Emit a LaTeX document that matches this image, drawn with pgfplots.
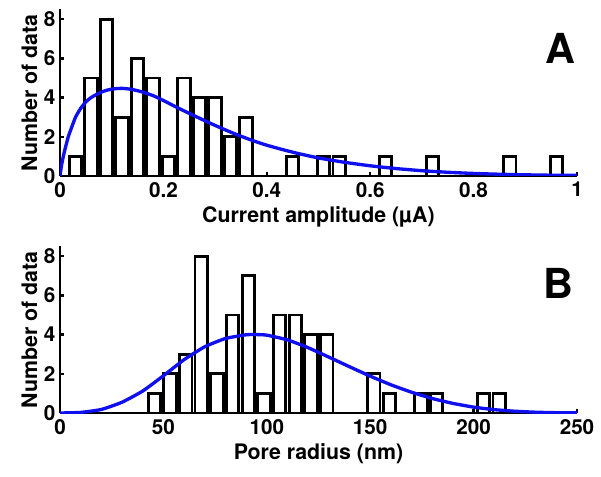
\documentclass[border=0pt]{standalone}
\usepackage{fontspec}
\setmainfont{TeX Gyre Heros}
\usepackage{pgfplots}
\pgfplotsset{compat=1.18}

\definecolor{fitblue}{RGB}{15,15,240}

\pgfplotsset{
  histo/.style={
    scale only axis,
    width=387.75pt, height=125pt,
    ymin=0, ymax=8.5,
    ytick={0,2,4,6,8},
    axis x line=bottom, axis y line=left,
    axis line style={-, line width=1.8pt},
    tick align=inside,
    major tick length=3pt,
    tick style={line width=1.8pt, black},
    /pgf/number format/assume math mode=true,
    tick label style={font=\fontsize{15.5}{15.5}\selectfont\bfseries},
    xticklabel style={yshift=-1pt},
    label style={font=\fontsize{16}{16}\selectfont\bfseries},
    xlabel style={yshift=0pt},
    ylabel style={yshift=-2pt},
  },
  bars/.style={ybar, draw=black, fill=white, line width=2.2pt},
  fit/.style={fitblue, line width=2.5pt, smooth, tension=0.3, no marks},
}

\begin{document}
\begin{tikzpicture}
\useasboundingbox (0,0) rectangle (450.75pt,357pt);

% A: current amplitude
\begin{axis}[histo,
  at={(45pt,225pt)}, anchor=south west,
  xmin=0, xmax=1,
  xtick={0,0.2,0.4,0.6,0.8,1},
  xlabel={Current amplitude (µA)},
  ylabel={Number of data},
]
\addplot[bars, bar width=0.024] coordinates {
  (0.03,1) (0.06,5) (0.09,8) (0.12,3) (0.15,6) (0.18,5) (0.21,1)
  (0.24,5) (0.27,4) (0.30,4) (0.33,2) (0.36,3)
  (0.45,1) (0.51,1) (0.54,1) (0.63,1) (0.72,1) (0.87,1) (0.96,1)
};
\addplot[fit] coordinates {
  (0,0) (0.003,0.55) (0.0064,1.0) (0.01,1.4) (0.016,2.0) (0.02,2.3)
  (0.03,3.0) (0.04,3.45) (0.05,3.78) (0.06,4.0) (0.07,4.15) (0.08,4.28)
  (0.09,4.37) (0.10,4.43) (0.11,4.46) (0.12,4.47) (0.13,4.45) (0.14,4.41)
  (0.15,4.35) (0.16,4.28) (0.18,4.1) (0.20,3.85) (0.22,3.58) (0.24,3.32)
  (0.26,3.07) (0.28,2.82) (0.30,2.58) (0.32,2.35) (0.34,2.13) (0.36,1.93)
  (0.38,1.74) (0.40,1.57) (0.43,1.35) (0.46,1.15) (0.50,0.92) (0.55,0.70)
  (0.60,0.52) (0.65,0.38) (0.70,0.27) (0.75,0.19) (0.80,0.13) (0.85,0.09)
  (0.90,0.06) (0.95,0.04) (1,0.03)
};
\node[font=\fontsize{31}{31}\selectfont\bfseries, inner sep=0pt]
  at (rel axis cs:0.967,0.767) {A};
\end{axis}

% B: pore radius
\begin{axis}[histo,
  at={(45pt,47.25pt)}, anchor=south west,
  xmin=0, xmax=250,
  xtick={0,50,100,150,200,250},
  xlabel={Pore radius (nm)},
  ylabel={Number of data},
]
\addplot[bars, bar width=6.05] coordinates {
  (45.6,1) (53.2,2) (60.8,3) (68.3,8) (75.9,2) (83.5,5) (91.1,7)
  (98.7,1) (106.2,5) (113.8,5) (121.4,4) (129.0,4)
  (151.7,2) (159.3,1) (174.5,1) (182.0,1) (204.8,1) (212.4,1)
};
\addplot[fit] coordinates {
  (0,0) (10,0.03) (20,0.18) (30,0.55) (40,1.12) (50,1.9) (60,2.72)
  (70,3.38) (80,3.8) (90,3.99) (95,4.0) (100,3.97) (110,3.73) (120,3.33)
  (130,2.85) (140,2.36) (150,1.88) (160,1.44) (170,1.06) (180,0.74)
  (190,0.49) (200,0.3) (210,0.17) (220,0.09) (230,0.04) (240,0.015)
  (250,0.005)
};
\node[font=\fontsize{31}{31}\selectfont\bfseries, inner sep=0pt]
  at (rel axis cs:0.965,0.778) {B};
\end{axis}
\end{tikzpicture}
\end{document}
